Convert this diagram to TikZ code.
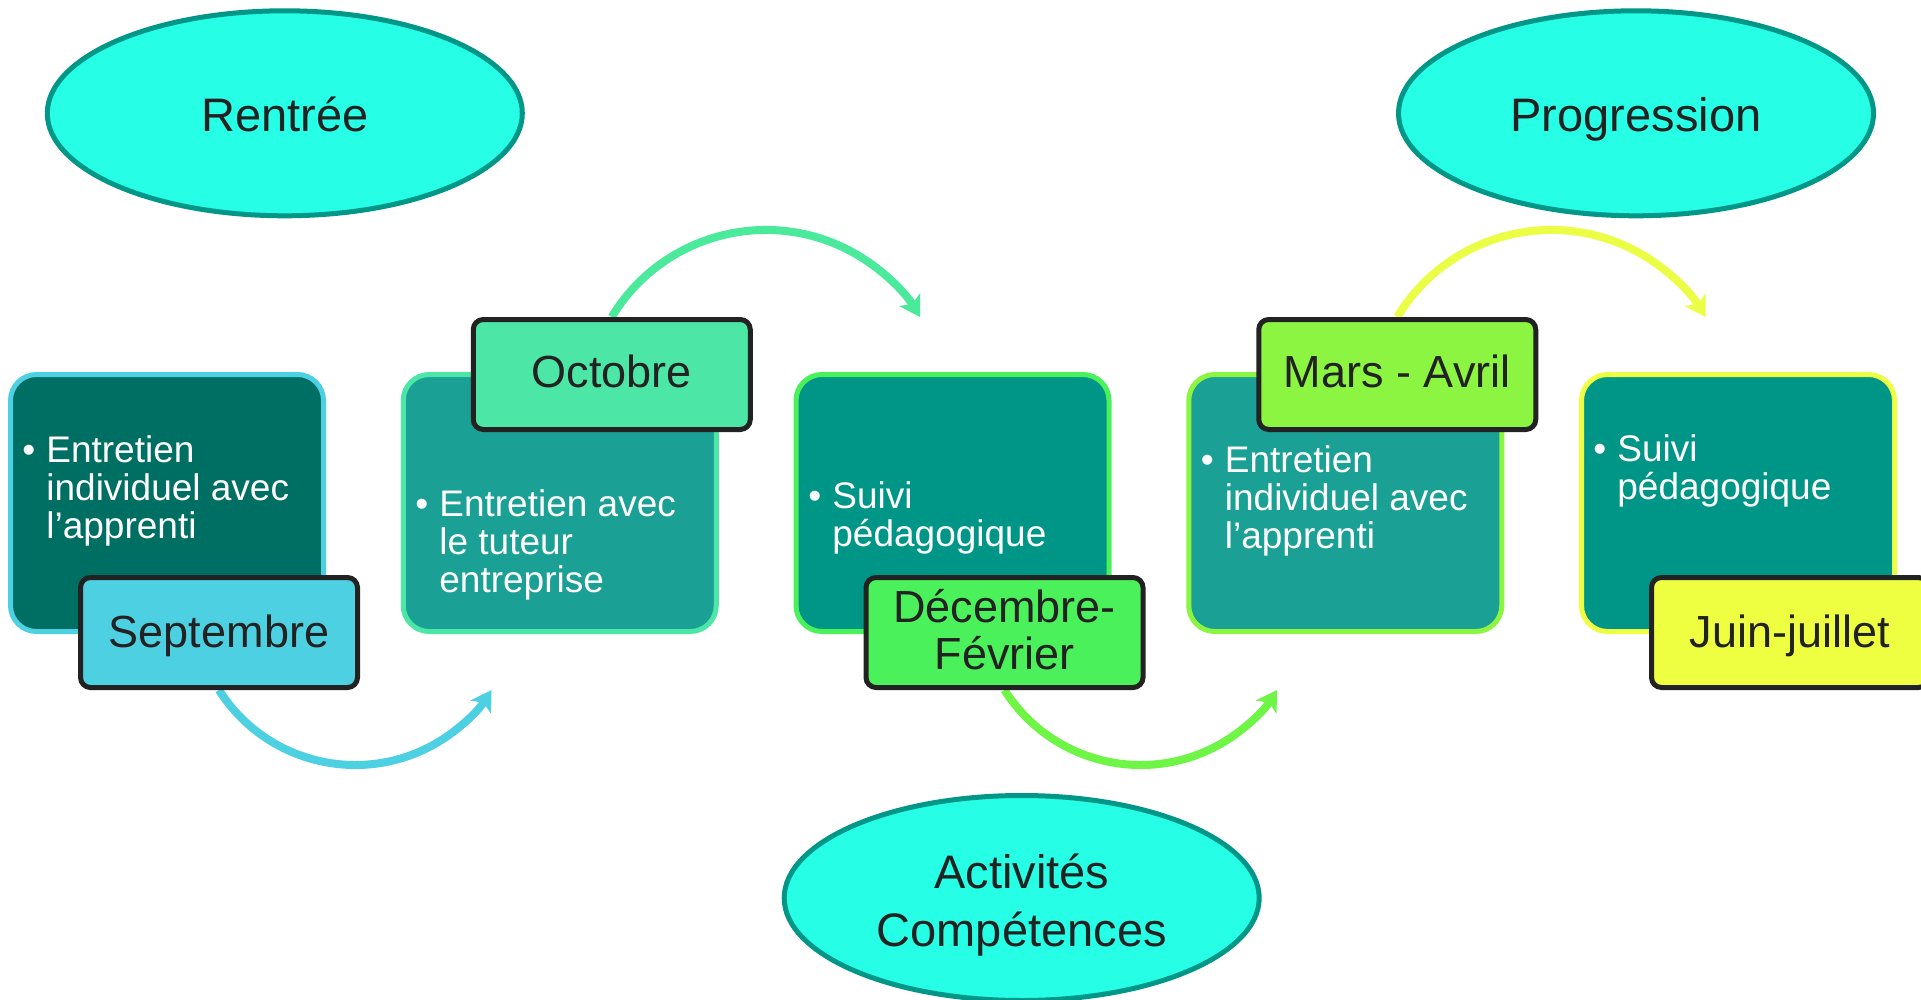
\documentclass[tikz,border=0pt]{standalone}
\usepackage{fontspec}
\setmainfont{Liberation Sans}
\usetikzlibrary{shapes.geometric,arrows.meta}
\definecolor{cSep}{HTML}{4DD0E1}
\definecolor{cOct}{HTML}{4CE6A6}
\definecolor{cDec}{HTML}{4BF15A}
\definecolor{cMar}{HTML}{8BF542}
\definecolor{cJui}{HTML}{EEFF41}
\definecolor{aOct}{HTML}{4AE99C}
\definecolor{aDec}{HTML}{6EF545}
\definecolor{aMar}{HTML}{EBFE45}
\definecolor{fDark}{HTML}{006F63}
\definecolor{fMid}{HTML}{1AA094}
\definecolor{fTeal}{HTML}{009687}
\definecolor{ellFill}{HTML}{26FFE6}
\definecolor{ellLine}{HTML}{009688}
\definecolor{ink}{HTML}{222222}
\pgfdeclarelayer{bg}
\pgfdeclarelayer{back}
\pgfsetlayers{bg,back,main}
\newcommand\tbul{\makebox[12pt][l]{•}}
\newcommand\tind{\hspace*{12pt}}
\begin{document}
\begin{tikzpicture}[x=0.5pt,y=-0.5pt,
 bigbox/.style={draw, line width=2.5pt, rounded corners=13pt, minimum width=156.5pt, minimum height=128.5pt, inner sep=0pt},
 datebox/.style={draw=ink, line width=2.5pt, rounded corners=5pt, minimum width=138.5pt, minimum height=55pt, inner sep=0pt, text=ink, font=\fontsize{22.5}{23.5}\selectfont},
 toplab/.style={datebox, text height=16pt, text depth=3.5pt},
 botlab/.style={datebox, text height=16.5pt, text depth=2pt},
 bubble/.style={ellipse, draw=ellLine, fill=ellFill, line width=2.5pt, minimum width=237.5pt, minimum height=102.5pt, inner sep=0pt, text=ink, font=\fontsize{23.5}{29}\selectfont},
 bodytext/.style={anchor=base west, inner sep=0pt, text=white, font=\fontsize{18.5}{19}\selectfont},
 flow/.style={line width=4pt, -{Stealth[length=10pt,width=12pt,inset=2.5pt]}}
]
\begin{pgfonlayer}{bg}
\fill[white] (0,0) rectangle (1921,1000);
\end{pgfonlayer}
\useasboundingbox (0,0) rectangle (1921,1000);

% main boxes
\node[bigbox, draw=cSep, fill=fDark] (b1) at (167,503) {};
\node[bigbox, draw=cOct, fill=fMid] (b2) at (559.75,503) {};
\node[bigbox, draw=cDec, fill=fTeal] (b3) at (952.5,503) {};
\node[bigbox, draw=cMar, fill=fMid] (b4) at (1345.25,503) {};
\node[bigbox, draw=cJui, fill=fTeal] (b5) at (1738,503) {};

% body texts
\node[bodytext] (t1) at (22,462) {\parbox[t]{150pt}{\tbul Entretien\\\tind individuel avec\\\tind l’apprenti}};
\node[bodytext] (t2) at (415,516) {\parbox[t]{150pt}{\tbul Entretien avec\\\tind le tuteur\\\tind entreprise}};
\node[bodytext] (t3) at (808,508) {\parbox[t]{150pt}{\tbul Suivi\\\tind pédagogique}};
\node[bodytext] (t4) at (1200.5,472) {\parbox[t]{150pt}{\tbul Entretien\\\tind individuel avec\\\tind l’apprenti}};
\node[bodytext] (t5) at (1593,461) {\parbox[t]{150pt}{\tbul Suivi\\\tind pédagogique}};

% date labels
\node[botlab, fill=cSep] (l1) at (219,632.5) {Septembre};
\node[toplab, fill=cOct] (l2) at (611.75,374.5) {Octobre};
\node[datebox, fill=cDec, text height=17pt, text depth=27.5pt] (l3) at (1004.5,632.5) {\begin{tabular}[t]{@{}c@{}}Décembre-\\Février\end{tabular}};
\node[toplab, fill=cMar] (l4) at (1397.25,374.5) {Mars - Avril};
\node[botlab, fill=cJui] (l5) at (1790,632.5) {Juin-juillet};

% arrows
\begin{pgfonlayer}{back}
\draw[flow, cSep] (l1.south) arc[start angle=212.35, end angle=327.65, radius=80.65pt];
\draw[flow, aOct] (l2.north) arc[start angle=148.9, end angle=31.1, radius=90pt];
\draw[flow, aDec] (l3.south) arc[start angle=212.35, end angle=327.65, radius=80.65pt];
\draw[flow, aMar] (l4.north) arc[start angle=148.9, end angle=31.1, radius=90pt];
\end{pgfonlayer}

% ellipses
\node[bubble, text height=18.4pt, text depth=0pt] (e1) at (284.8,113.3) {Rentrée};
\node[bubble, text height=18.4pt, text depth=0pt] (e2) at (1636,113.3) {Progression};
\node[bubble, text height=18pt, text depth=28pt] (e3) at (1021.7,898) {\begin{tabular}[t]{@{}c@{}}Activités\\Compétences\end{tabular}};
\end{tikzpicture}
\end{document}
